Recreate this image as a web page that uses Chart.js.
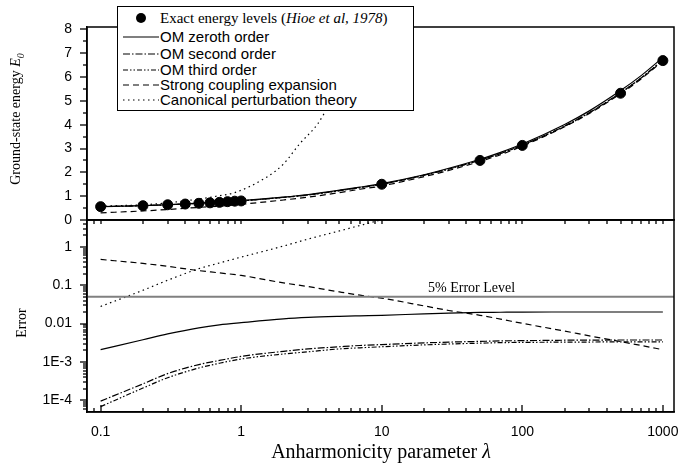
<!DOCTYPE html>
<html>
<head>
<meta charset="utf-8">
<title>Ground-state energy of the quartic oscillator</title>
<script src="https://cdn.jsdelivr.net/npm/chart.js@4.4.1/dist/chart.umd.min.js"></script>
<style>
  body { margin: 0; background: #fff; }
  #page { position: relative; width: 681px; height: 464px; overflow: hidden; background: #fff; }
  canvas { position: absolute; left: 0; }
  #energyChart { top: 0; }
  #errorChart { top: 212px; }
  .serif { font-family: "Liberation Serif", "Times New Roman", serif; color: #000; white-space: nowrap; position: absolute; }
  .ytitle { transform: translate(-50%, -50%) rotate(-90deg); font-size: 14px; }
  .legend { position: absolute; left: 117px; top: 6px; width: 297px; height: 105px; box-sizing: border-box;
            border: 1.5px solid #000; background: #fff; }
  .row { position: absolute; left: 0; height: 18px; line-height: 18px; font-size: 15px; white-space: nowrap;
         font-family: "Liberation Sans", Arial, sans-serif; color: #000; }
  .row svg { position: absolute; left: 5px; top: 4px; }
  .row span { position: absolute; left: 42px; }
  .row.serifrow { font-family: "Liberation Serif", "Times New Roman", serif; font-size: 15px; }
</style>
</head>
<body>
<div id="page">
  <canvas id="energyChart" width="681" height="232"></canvas>
  <canvas id="errorChart" width="681" height="252"></canvas>

  <div class="serif ytitle" style="left:17px; top:119px;">Ground-state energy <i>E<sub style="font-size:10px">0</sub></i></div>
  <div class="serif ytitle" style="left:22px; top:323px;">Error</div>
  <div class="serif" style="left:381px; top:451px; transform:translate(-50%,-50%); font-size:20px;">Anharmonicity parameter <i>λ</i></div>
  <div class="serif" style="left:428px; top:280px; font-size:14px;">5% Error Level</div>

  <div class="legend" id="legend"></div>
</div>

<script>
// ---------- DATA ----------

// anharmonicity parameter values used for the curves
const lambdaGrid = [0.1, 0.2, 0.3, 0.5, 0.7, 1, 2, 3, 5, 7, 10, 20, 30, 50, 70, 100, 200, 300, 500, 700, 1000];

// exact energy levels (Hioe et al, 1978)
const exactLambda = [0.1, 0.2, 0.3, 0.4, 0.5, 0.6, 0.7, 0.8, 0.9, 1, 10, 50, 100, 500, 1000];
const exactE0 = [0.56, 0.60, 0.64, 0.67, 0.70, 0.72, 0.74, 0.77, 0.79, 0.80, 1.50, 2.50, 3.13, 5.32, 6.69];

// ground-state energy curves (top panel)
const omZerothE0 = [0.56, 0.60, 0.64, 0.71, 0.75, 0.81, 0.96, 1.07, 1.25, 1.38, 1.53, 1.90, 2.17, 2.55, 2.84, 3.19, 4.01, 4.58, 5.43, 6.06, 6.82];
const omSecondE0 = [0.56, 0.60, 0.64, 0.70, 0.74, 0.80, 0.95, 1.05, 1.23, 1.36, 1.50, 1.88, 2.14, 2.51, 2.79, 3.14, 3.94, 4.51, 5.34, 5.96, 6.72];
const omThirdE0  = [0.56, 0.60, 0.64, 0.70, 0.74, 0.80, 0.95, 1.05, 1.23, 1.36, 1.50, 1.88, 2.14, 2.51, 2.79, 3.14, 3.94, 4.50, 5.34, 5.96, 6.71];
const strongE0   = [0.30, 0.38, 0.44, 0.53, 0.58, 0.66, 0.84, 0.96, 1.15, 1.29, 1.43, 1.82, 2.08, 2.46, 2.74, 3.10, 3.91, 4.47, 5.30, 5.92, 6.68];
const cptLambda  = [0.1, 0.2, 0.3, 0.5, 0.7, 0.9, 1.5, 2, 2.6, 3.5, 4.2, 5, 6, 7, 8, 10, 12];
const cptE0      = [0.58, 0.64, 0.72, 0.88, 1.02, 1.15, 1.78, 2.35, 3.19, 4.03, 4.80, 5.45, 6.15, 6.75, 7.25, 8.05, 8.8];

// relative errors (bottom panel)
const omZerothErr = [0.0021, 0.0038, 0.0054, 0.0078, 0.0093, 0.0106, 0.0133, 0.0145, 0.0155, 0.016, 0.0165, 0.018, 0.0188, 0.0196, 0.0198, 0.02, 0.0201, 0.0201, 0.0201, 0.0201, 0.0201];
const omSecondErr = [9.6e-5, 2.7e-4, 5.0e-4, 8.6e-4, 1.1e-3, 1.4e-3, 1.9e-3, 2.2e-3, 2.5e-3, 2.7e-3, 2.85e-3, 3.15e-3, 3.3e-3, 3.45e-3, 3.55e-3, 3.6e-3, 3.7e-3, 3.72e-3, 3.75e-3, 3.75e-3, 3.75e-3];
const omThirdErr  = [6.9e-5, 2.1e-4, 3.9e-4, 7.0e-4, 9.3e-4, 1.2e-3, 1.62e-3, 1.85e-3, 2.2e-3, 2.35e-3, 2.5e-3, 2.8e-3, 2.95e-3, 3.1e-3, 3.2e-3, 3.25e-3, 3.3e-3, 3.32e-3, 3.35e-3, 3.35e-3, 3.35e-3];
const strongErr   = [0.47, 0.37, 0.31, 0.24, 0.21, 0.18, 0.115, 0.092, 0.067, 0.055, 0.046, 0.029, 0.022, 0.0165, 0.0131, 0.0102, 0.0064, 0.0048, 0.0034, 0.0027, 0.0021];
const cptErrLambda = [0.1, 0.2, 0.3, 0.5, 0.7, 1, 2, 3, 5, 7, 10];
const cptErr       = [0.028, 0.074, 0.135, 0.27, 0.38, 0.54, 1.05, 1.6, 2.6, 3.6, 5.1];
const errorLevel = 0.05;

// tick labels
const xTickValues = [0.1, 1, 10, 100, 1000];
const xTickText = ["0.1", "1", "10", "100", "1000"];
const energyTickValues = [0, 1, 2, 3, 4, 5, 6, 7, 8];
const errTickValues = [1e-4, 1e-3, 0.01, 0.1, 1];
const errTickText = ["1E-4", "1E-3", "0.01", "0.1", "1"];

// axis ranges
const X_MIN = 0.08, X_MAX = 1200;
const E_MIN = 0, E_MAX = 8.1;
const ERR_MIN = 5e-5, ERR_MAX = 5;

// ---------- HELPERS ----------
function pts(xs, ys) {
    return xs.map((x, i) => ({ x: x, y: ys[i] }));
}

function logTicks(min, max) {
    const out = [];
    for (let e = Math.floor(Math.log10(min)); e <= Math.ceil(Math.log10(max)); e++) {
        for (let m = 1; m <= 9; m++) {
            const v = m * Math.pow(10, e);
            if (v > min * 1.001 && v < max * 0.999) out.push({ value: v });
        }
    }
    return out;
}

function labelFrom(values, texts) {
    return v => {
        const i = values.findIndex(t => Math.abs(v / t - 1) < 1e-6);
        return i < 0 ? "" : texts[i];
    };
}

// line styles shared by chart and legend
const styles = {
    zeroth: [],
    second: [7, 2, 1.5, 2],
    third: [5, 2, 1.5, 2, 1.5, 2],
    strong: [6, 4],
    cpt: [1.5, 3.5]
};

function line(data, dash) {
    return {
        data: data,
        borderColor: "#000",
        borderWidth: 1.2,
        borderDash: dash,
        pointRadius: 0,
        cubicInterpolationMode: "monotone",
        fill: false
    };
}

// frame round the plot area + tick marks (long for labelled ticks, short for minor ones)
function framePlugin(xDir) {
    return {
        id: "frame",
        afterDraw(chart) {
            const ctx = chart.ctx;
            const a = chart.chartArea;
            const xs = chart.scales.x, ys = chart.scales.y;
            ctx.save();
            ctx.setLineDash([]);
            ctx.strokeStyle = "#000";
            ctx.lineWidth = 1.3;
            xs.ticks.forEach(t => {
                const px = Math.round(xs.getPixelForValue(t.value));
                const len = t.label ? 7 : 4;
                ctx.beginPath();
                ctx.moveTo(px, a.bottom);
                ctx.lineTo(px, a.bottom + xDir * len);
                ctx.stroke();
            });
            ys.ticks.forEach(t => {
                const py = Math.round(ys.getPixelForValue(t.value));
                const len = t.label ? 7 : 4;
                ctx.beginPath();
                ctx.moveTo(a.left, py);
                ctx.lineTo(a.left - len, py);
                ctx.stroke();
            });
            ctx.lineWidth = 1.5;
            ctx.strokeRect(a.left, a.top, a.right - a.left, a.bottom - a.top);
            ctx.restore();
        }
    };
}

Chart.defaults.font.family = '"Liberation Sans", Arial, sans-serif';
Chart.defaults.font.size = 14;
Chart.defaults.color = "#000";

const commonOptions = {
    responsive: false,
    animation: false,
    devicePixelRatio: 1,
    plugins: { legend: { display: false }, tooltip: { enabled: false } }
};

function xAxis(showLabels, padding, height) {
    return {
        type: "logarithmic",
        min: X_MIN,
        max: X_MAX,
        afterBuildTicks: s => { s.ticks = logTicks(X_MIN, X_MAX); },
        afterFit: s => { s.height = height; s.paddingLeft = 0; s.paddingRight = 0; },
        ticks: {
            autoSkip: false,
            maxRotation: 0,
            padding: padding,
            callback: showLabels ? labelFrom(xTickValues, xTickText) : () => ""
        },
        grid: { display: false, drawTicks: false },
        border: { color: "#000", width: 1.5 }
    };
}

function yAxis(type, min, max, buildTicks, callback) {
    return {
        type: type,
        min: min,
        max: max,
        afterBuildTicks: s => { s.ticks = buildTicks(); },
        afterFit: s => { s.width = 87; s.paddingTop = 0; s.paddingBottom = 0; },
        ticks: { autoSkip: false, padding: 15, callback: callback },
        grid: { display: false, drawTicks: false },
        border: { color: "#000", width: 1.5 }
    };
}

// ---------- TOP PANEL: GROUND-STATE ENERGY ----------
new Chart(document.getElementById("energyChart").getContext("2d"), {
    type: "line",
    data: {
        datasets: [
            line(pts(lambdaGrid, omZerothE0), styles.zeroth),
            line(pts(lambdaGrid, omSecondE0), styles.second),
            line(pts(lambdaGrid, omThirdE0), styles.third),
            line(pts(lambdaGrid, strongE0), styles.strong),
            line(pts(cptLambda, cptE0), styles.cpt),
            {
                data: pts(exactLambda, exactE0),
                showLine: false,
                pointRadius: 5,
                pointBackgroundColor: "#000",
                pointBorderColor: "#000",
                borderColor: "#000"
            }
        ]
    },
    options: Object.assign({}, commonOptions, {
        layout: { padding: { left: 0, right: 7, top: 27, bottom: 0 } },
        scales: {
            x: xAxis(false, 0, 12),
            y: yAxis("linear", E_MIN, E_MAX, () => {
                const t = [];
                for (let v = 0; v <= 8; v += 0.5) t.push({ value: v });
                return t;
            }, v => energyTickValues.includes(v) ? String(v) : "")
        }
    }),
    plugins: [framePlugin(1)]
});

// ---------- BOTTOM PANEL: ERROR ----------
new Chart(document.getElementById("errorChart").getContext("2d"), {
    type: "line",
    data: {
        datasets: [
            {
                data: pts([X_MIN, X_MAX], [errorLevel, errorLevel]),
                borderColor: "#808080",
                borderWidth: 2,
                pointRadius: 0
            },
            line(pts(lambdaGrid, omZerothErr), styles.zeroth),
            line(pts(lambdaGrid, omSecondErr), styles.second),
            line(pts(lambdaGrid, omThirdErr), styles.third),
            line(pts(lambdaGrid, strongErr), styles.strong),
            line(pts(cptErrLambda, cptErr), styles.cpt)
        ]
    },
    options: Object.assign({}, commonOptions, {
        layout: { padding: { left: 0, right: 7, top: 8, bottom: 0 } },
        scales: {
            x: xAxis(true, 12, 52),
            y: yAxis("logarithmic", ERR_MIN, ERR_MAX, () => logTicks(ERR_MIN, ERR_MAX), labelFrom(errTickValues, errTickText))
        }
    }),
    plugins: [framePlugin(-1)]
});

// ---------- LEGEND ----------
const legendRows = [
    { html: 'Exact energy levels (<i>Hioe et al, 1978</i>)', marker: true, serif: true, y: 11 },
    { html: "OM zeroth order", dash: styles.zeroth, y: 30 },
    { html: "OM second order", dash: styles.second, y: 46.5 },
    { html: "OM third order", dash: styles.third, y: 62.5 },
    { html: "Strong coupling expansion", dash: styles.strong, y: 78 },
    { html: "Canonical perturbation theory", dash: styles.cpt, y: 93 }
];

const legend = document.getElementById("legend");
legendRows.forEach(r => {
    const row = document.createElement("div");
    row.className = "row" + (r.serif ? " serifrow" : "");
    row.style.top = (r.y - 9) + "px";
    const sample = r.marker
        ? '<circle cx="18" cy="5" r="5" fill="#000"/>'
        : '<line x1="0" y1="5" x2="36" y2="5" stroke="#000" stroke-width="1.2" stroke-dasharray="' + r.dash.join(" ") + '"/>';
    row.innerHTML = '<svg width="36" height="10">' + sample + '</svg><span>' + r.html + '</span>';
    legend.appendChild(row);
});
</script>
</body>
</html>
